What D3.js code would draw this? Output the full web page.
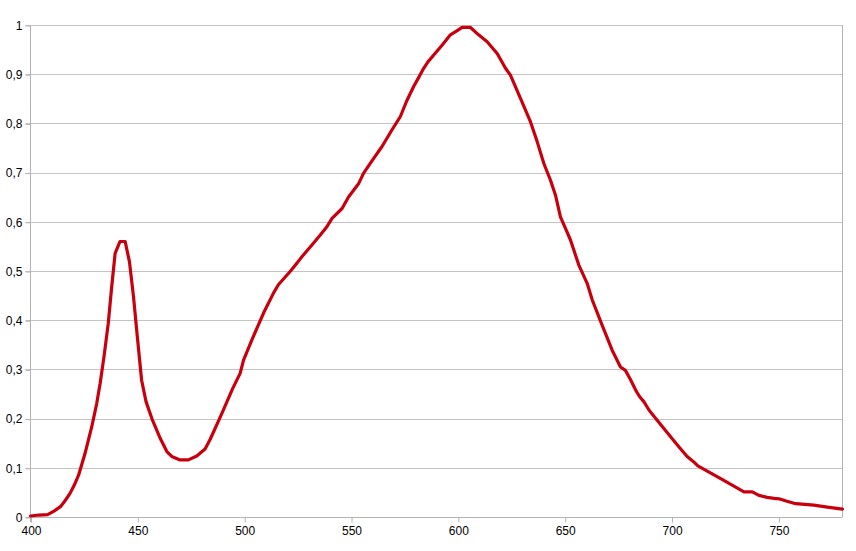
<!DOCTYPE html>
<html>
<head>
<meta charset="utf-8">
<script src="https://cdn.jsdelivr.net/npm/d3@7"></script>
<style>
html,body{margin:0;padding:0;background:#fff;}
svg{display:block;}
text{font-family:"Liberation Sans",Arial,sans-serif;font-size:12px;fill:#000;}
</style>
</head>
<body>
<svg id="chart" width="856" height="551"></svg>
<script>
const wavelengths = [
  400, 404, 408, 411, 414, 416, 418.5, 420.5, 422.5, 425.5,
  428.7, 431, 432.6, 434.4, 436.4, 438, 439.6, 441.9, 444.3, 446.3,
  448.2, 450, 452, 454.1, 456.8, 460.7, 463.8, 466.1, 470, 473.9,
  477.8, 481.7, 484.1, 489, 494.7, 498.1, 499.7, 503.6, 509, 513.7,
  516, 521.5, 524.7, 527, 531.5, 535.6, 538.7, 541.1, 545.8, 548.9,
  553.6, 555.9, 560.6, 564.5, 569.2, 573.1, 576, 579.3, 581.5, 584,
  586, 588.7, 592.6, 596.5, 599.5, 602, 605.9, 609.7, 613.7, 618.4,
  622.3, 624.6, 629.3, 634, 637.1, 640.2, 643.3, 645.7, 648, 650,
  652.7, 656.6, 660.5, 662.9, 667.5, 672.2, 676.1, 678.4, 680.7, 683.2,
  685, 687.1, 689.5, 696.4, 703, 707.3, 710.4, 712.3, 723, 733.9,
  737.8, 740.9, 744.8, 748, 750.3, 754, 758.1, 766.6, 772.9, 780
];
const intensity = [
  0.002, 0.004, 0.005, 0.012, 0.021, 0.032, 0.048, 0.065, 0.085, 0.129,
  0.184, 0.231, 0.272, 0.326, 0.394, 0.468, 0.536, 0.56, 0.56, 0.519,
  0.448, 0.366, 0.278, 0.234, 0.2, 0.16, 0.133, 0.123, 0.116, 0.116,
  0.124, 0.138, 0.158, 0.205, 0.262, 0.292, 0.319, 0.36, 0.414, 0.455,
  0.472, 0.499, 0.516, 0.529, 0.552, 0.573, 0.59, 0.607, 0.627, 0.651,
  0.678, 0.699, 0.729, 0.753, 0.787, 0.814, 0.845, 0.875, 0.892, 0.912,
  0.925, 0.939, 0.959, 0.98, 0.988, 0.995, 0.995, 0.98, 0.966, 0.942,
  0.912, 0.898, 0.851, 0.803, 0.763, 0.719, 0.685, 0.654, 0.61, 0.59,
  0.563, 0.512, 0.475, 0.441, 0.39, 0.339, 0.305, 0.298, 0.28, 0.258,
  0.245, 0.234, 0.217, 0.18, 0.145, 0.123, 0.112, 0.104, 0.078, 0.051,
  0.051, 0.044, 0.040, 0.038, 0.037, 0.032, 0.027, 0.024, 0.020, 0.016
];
const xTicks = [400, 450, 500, 550, 600, 650, 700, 750];
const yTicks = [0, 0.1, 0.2, 0.3, 0.4, 0.5, 0.6, 0.7, 0.8, 0.9, 1];

(function () {
const data = wavelengths.map((w, i) => ({x: w, y: intensity[i]}));

const svg = d3.select("#chart");
const mLeft = 30.5, mRight = 842.5, mTop = 25, mBottom = 517;
const x = d3.scaleLinear().domain([400, 780]).range([mLeft, mRight]);
const y = d3.scaleLinear().domain([0, 1]).range([mBottom, mTop]);

// gridlines
svg.append("g").selectAll("line").data(yTicks.filter(d => d > 0)).join("line")
  .attr("x1", mLeft - 5).attr("x2", mRight)
  .attr("y1", d => Math.round(y(d)) + 0.5).attr("y2", d => Math.round(y(d)) + 0.5)
  .attr("stroke", "#c4c4c4").attr("stroke-width", 1);

// y axis
const fmt = d => d3.format(".1~f")(d).replace(".", ",");
const yAxis = d3.axisLeft(y).tickValues(yTicks).tickFormat(fmt).tickSize(5).tickPadding(3);
const gy = svg.append("g").attr("transform", `translate(${mLeft},0.5)`).call(yAxis);
gy.select(".domain").remove();
gy.selectAll(".tick line").attr("stroke", "#b3b3b3");
gy.selectAll(".tick text").attr("fill", "#000").style("font-size", "12px")
  .style("font-family", "'Liberation Sans', Arial, sans-serif");

// x axis
const xAxis = d3.axisBottom(x).tickValues(xTicks).tickFormat(d3.format("d")).tickSize(5).tickPadding(4);
const gx = svg.append("g").attr("transform", `translate(0.5,${mBottom + 0.5})`).call(xAxis);
gx.select(".domain").remove();
gx.selectAll(".tick line").attr("stroke", "#b3b3b3");
gx.selectAll(".tick text").attr("fill", "#000").style("font-size", "12px")
  .style("font-family", "'Liberation Sans', Arial, sans-serif");

// frame lines
svg.append("line").attr("x1", mLeft - 5).attr("x2", mRight).attr("y1", mBottom + 0.5).attr("y2", mBottom + 0.5)
  .attr("stroke", "#b3b3b3");
svg.append("line").attr("x1", mLeft).attr("x2", mLeft).attr("y1", mTop).attr("y2", mBottom + 5)
  .attr("stroke", "#b3b3b3");
svg.append("line").attr("x1", mRight).attr("x2", mRight).attr("y1", mTop).attr("y2", mBottom)
  .attr("stroke", "#b3b3b3");

// series
const line = d3.line().x(d => x(d.x)).y(d => y(d.y));
svg.append("path").datum(data)
  .attr("d", line)
  .attr("fill", "none")
  .attr("stroke", "#c8000e")
  .attr("stroke-width", 3.2)
  .attr("stroke-linejoin", "round")
  .attr("stroke-linecap", "round");
})();
</script>
</body>
</html>
